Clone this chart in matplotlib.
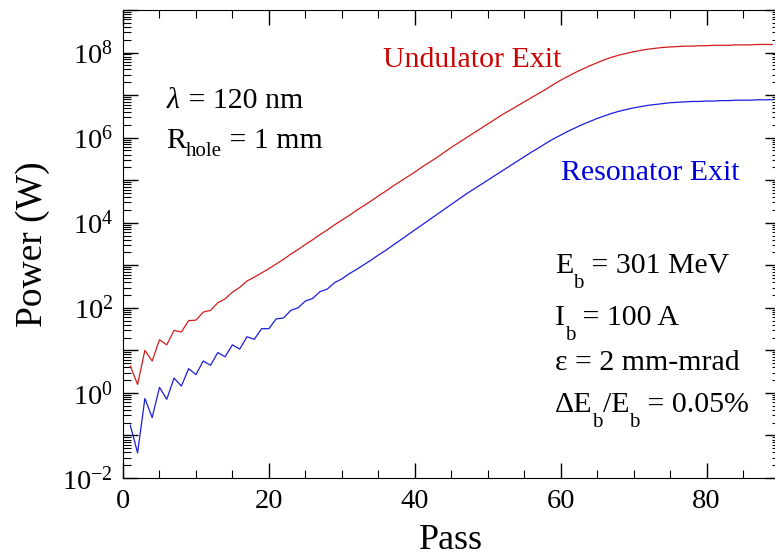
import numpy as np
import matplotlib
matplotlib.use("Agg")
import matplotlib.pyplot as plt
from matplotlib.ticker import LogLocator, MultipleLocator, FuncFormatter

plt.rcParams['font.family'] = ['Liberation Serif', 'DejaVu Serif']
plt.rcParams['mathtext.fontset'] = 'custom'
plt.rcParams['mathtext.rm'] = 'Liberation Serif'
plt.rcParams['mathtext.it'] = 'Liberation Serif:italic'

# pass number
passes = np.arange(1, 90)

# log10 of power (W)
log_undulator = [
    0.63, 0.20, 1.00, 0.75, 1.25, 1.13, 1.47, 1.43, 1.70, 1.71,
    1.90, 1.94, 2.12, 2.21, 2.37, 2.48, 2.63, 2.72, 2.82, 2.92,
    3.03, 3.14, 3.26, 3.37, 3.49, 3.60, 3.72, 3.83, 3.95, 4.06,
    4.17, 4.29, 4.40, 4.51, 4.63, 4.74, 4.86, 4.97, 5.08, 5.19,
    5.31, 5.42, 5.53, 5.65, 5.77, 5.88, 5.99, 6.10, 6.21, 6.32,
    6.43, 6.54, 6.64, 6.74, 6.84, 6.94, 7.04, 7.14, 7.25, 7.35,
    7.44, 7.53, 7.61, 7.69, 7.76, 7.83, 7.89, 7.94, 7.98, 8.02,
    8.05, 8.08, 8.10, 8.12, 8.13, 8.14, 8.15, 8.15, 8.16, 8.16,
    8.17, 8.17, 8.17, 8.18, 8.18, 8.18, 8.19, 8.19, 8.19,
]
log_resonator = [
    -0.76, -1.41, -0.13, -0.58, 0.13, -0.15, 0.35, 0.16, 0.57, 0.43,
    0.75, 0.65, 0.95, 0.85, 1.13, 1.03, 1.32, 1.26, 1.51, 1.51,
    1.74, 1.76, 1.94, 2.00, 2.16, 2.22, 2.38, 2.44, 2.59, 2.68,
    2.80, 2.90, 3.01, 3.12, 3.24, 3.35, 3.47, 3.59, 3.71, 3.83,
    3.95, 4.07, 4.19, 4.31, 4.43, 4.55, 4.67, 4.78, 4.89, 5.00,
    5.11, 5.22, 5.33, 5.44, 5.55, 5.66, 5.76, 5.87, 5.97, 6.06,
    6.15, 6.23, 6.31, 6.38, 6.45, 6.51, 6.57, 6.62, 6.66, 6.70,
    6.73, 6.76, 6.78, 6.80, 6.82, 6.83, 6.84, 6.85, 6.85, 6.86,
    6.86, 6.87, 6.87, 6.88, 6.88, 6.88, 6.89, 6.89, 6.89,
]

undulator = 10.0 ** np.array(log_undulator)
resonator = 10.0 ** np.array(log_resonator)

W, H = 775, 559
fig = plt.figure(figsize=(W / 100, H / 100), dpi=100)
ax = fig.add_axes([123 / W, (H - 478) / H, (779.5 - 123) / W, 468 / H])

ax.plot(passes, undulator, color='#d41c1c', lw=0.9)
ax.plot(passes, resonator, color='#1c1ce0', lw=0.9)

ax.set_yscale('log')
ax.set_xlim(0, 90)
ax.set_ylim(1e-2, 1e9)

ax.xaxis.set_major_locator(MultipleLocator(20))
ax.xaxis.set_minor_locator(MultipleLocator(5))
ax.yaxis.set_major_locator(LogLocator(base=10, numticks=20))
ax.yaxis.set_minor_locator(LogLocator(base=10, subs=np.arange(2, 10), numticks=20))

def fmt(v, pos):
    e = int(round(np.log10(v)))
    if e % 2:
        return ''
    return r'$\mathregular{10^{%d}}$' % e

ax.yaxis.set_major_formatter(FuncFormatter(fmt))
ax.yaxis.set_minor_formatter(FuncFormatter(lambda v, p: ''))

ax.tick_params(which='both', direction='in', top=True, right=True, labelsize=20.5)
ax.tick_params(which='major', length=11, width=1)
ax.tick_params(which='minor', length=6, width=0.8)
ax.tick_params(axis='x', pad=8)
ax.tick_params(axis='y', pad=7)
ax.spines['right'].set_visible(False)

ax.set_xlabel('Pass', fontsize=26, labelpad=7)
ax.set_ylabel('Power (W)', fontsize=27, labelpad=9)

renderer = fig.canvas.get_renderer()
fs = 21.5
sub = 15

def rich(x, y, pieces, color='black'):
    # pieces: (text, drop in px, size); placed one after another
    for s, dy, size in pieces:
        t = fig.text(x / W, 1 - (y + dy) / H, s, va='baseline', ha='left',
                     fontsize=size, color=color)
        x = t.get_window_extent(renderer).x1

rich(166, 108, [(r'$\mathit{\lambda}$', 0, fs), (' = 120 nm', 0, fs)])
rich(166, 148, [('R', 0, fs), ('hole', 8, sub), (' = 1 mm', 0, fs)])
rich(383, 67, [('Undulator Exit', 0, fs)], color='#cc0000')
rich(561, 180, [('Resonator Exit', 0, fs)], color='#0000dd')
rich(555, 273, [('E', 0, fs), ('b', 15, sub), (' = 301 MeV', 0, fs)])
rich(555, 325, [('I', 0, fs), ('b', 15, sub), (' = 100 A', 0, fs)])
rich(555, 370, [('ε = 2 mm-mrad', 0, fs)])
rich(555, 412, [('ΔE', 0, fs), ('b', 15, sub), ('/E', 0, fs), ('b', 15, sub),
                (' = 0.05%', 0, fs)])

fig.savefig('out.png', dpi=100)
